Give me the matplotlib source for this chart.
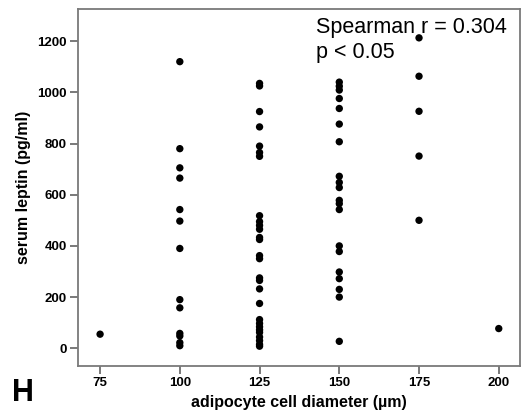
import numpy as np
import matplotlib
matplotlib.use("Agg")
import matplotlib.pyplot as plt

plt.rcParams['font.family'] = ['Liberation Sans', 'DejaVu Sans']

# adipocyte cell diameter (um) groups and serum leptin (pg/ml) values
d75 = [55]
d100 = [1120, 780, 705, 665, 542, 497, 390, 190, 158, 58, 48, 22, 10]
d125 = [1035, 1025, 925, 865, 790, 765, 750, 518, 495, 480, 465, 433, 425,
        362, 350, 275, 265, 232, 175, 112, 97, 84, 72, 62, 44, 30, 15, 8]
d150 = [1040, 1024, 1009, 976, 937, 876, 807, 672, 648, 628, 578, 565, 542,
        400, 378, 298, 272, 230, 200, 27]
d175 = [1213, 1063, 926, 751, 500]
d200 = [77]

groups = [75, 100, 125, 150, 175, 200]
values = [d75, d100, d125, d150, d175, d200]

x = np.concatenate([[g]*len(v) for g, v in zip(groups, values)])
y = np.concatenate([np.array(v, dtype=float) for v in values])

fig = plt.figure(figsize=(5.24, 4.18), dpi=100)
ax = fig.add_axes([0.149, 0.124, 0.843, 0.854])

ax.scatter(x, y, s=28, c='black', edgecolors='none', zorder=3)

ax.set_xlim(68.1, 206.6)
ax.set_ylim(-70, 1325)
ax.set_xticks(groups)
ax.set_yticks([0, 200, 400, 600, 800, 1000, 1200])

for sp in ax.spines.values():
    sp.set_color('#7a7a7a')
    sp.set_linewidth(1.3)
ax.tick_params(direction='out', length=6, width=1.1, color='#555555',
               labelsize=9.5, pad=2)
for lab in ax.get_xticklabels() + ax.get_yticklabels():
    lab.set_fontweight('bold')

ax.set_xlabel('adipocyte cell diameter (µm)', fontsize=11.5, fontweight='bold', labelpad=4)
ax.set_ylabel('serum leptin (pg/ml)', fontsize=11.5, fontweight='bold', labelpad=5)

ax.text(0.538, 0.978, 'Spearman r = 0.304\np < 0.05', transform=ax.transAxes,
        fontsize=15.5, va='top', ha='left', linespacing=1.25)

fig.text(0.022, 0.024, 'H', fontsize=22, fontweight='bold', ha='left', va='bottom')

fig.savefig('out.png', dpi=100)
